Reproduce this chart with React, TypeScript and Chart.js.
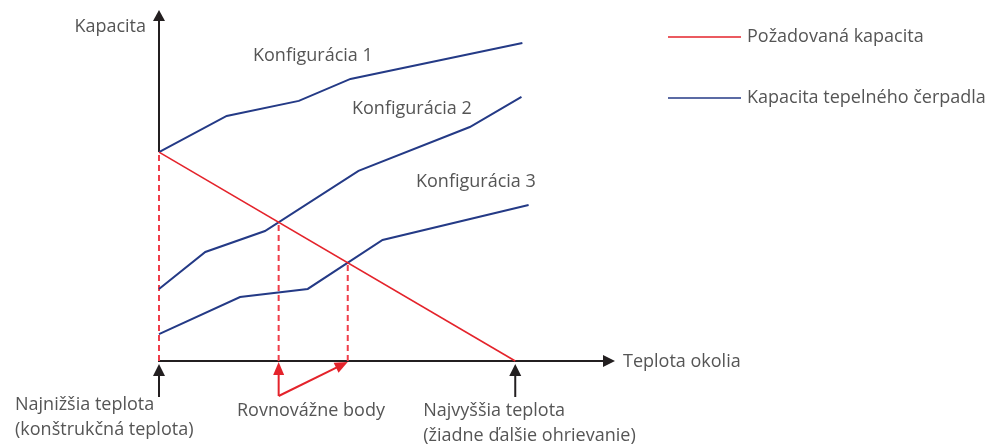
import React, { useEffect, useRef } from "react";
import { Chart, registerables } from "chart.js";

Chart.register(...registerables);

// ---- data (temperature units on x, capacity % on y) ----
const demandTemps = [-20, 20];
const demandValues = [100, 0];
const config1Temps = [-20, -12.4, -4.3, 1.5, 20.8];
const config1Values = [100, 117.3, 124.5, 135, 152.2];
const config2Temps = [-20, -14.8, -8.1, 2.4, 14.9, 20.7];
const config2Values = [34.5, 52.2, 62.2, 91, 112, 126.4];
const config3Temps = [-20, -10.9, -3.3, 5.1, 21.5];
const config3Values = [12.9, 30.6, 34.5, 57.9, 74.7];

const designTemp = -20;
const maxTemp = 20;
const xAxisEnd = 31.2;
const yAxisEnd = 168;

const seriesNames = ["Požadovaná kapacita", "Kapacita tepelného čerpadla"];
const configLabels = ["Konfigurácia 1", "Konfigurácia 2", "Konfigurácia 3"];
const yAxisTitle = "Kapacita";
const xAxisTitle = "Teplota okolia";
const lowLabel = ["Najnižšia teplota", "(konštrukčná teplota)"];
const highLabel = ["Najvyššia teplota", "(žiadne ďalšie ohrievanie)"];
const balanceLabel = "Rovnovážne body";

const RED = "#e4232b";
const RED_DASH = "#ef3e4a";
const BLUE = "#243a86";
const AXIS = "#231f20";
const TEXT = "#555555";
const FONT = '18px "Open Sans", "Noto Sans", sans-serif';

type P = { x: number; y: number };
const toPts = (xs: number[], ys: number[]): P[] => xs.map((x, i) => ({ x, y: ys[i] }));

const demandAt = (t: number) => {
  const [t0, t1] = demandTemps;
  const [v0, v1] = demandValues;
  return v0 + ((t - t0) / (t1 - t0)) * (v1 - v0);
};

// intersection of a capacity curve with the demand line
const balancePoint = (xs: number[], ys: number[]): P | null => {
  for (let i = 0; i < xs.length - 1; i++) {
    const d0 = ys[i] - demandAt(xs[i]);
    const d1 = ys[i + 1] - demandAt(xs[i + 1]);
    if (d0 <= 0 && d1 >= 0) {
      const f = d0 === d1 ? 0 : -d0 / (d1 - d0);
      const t = xs[i] + f * (xs[i + 1] - xs[i]);
      return { x: t, y: demandAt(t) };
    }
  }
  return null;
};

const bal2 = balancePoint(config2Temps, config2Values) as P;
const bal3 = balancePoint(config3Temps, config3Values) as P;

function arrowHead(ctx: CanvasRenderingContext2D, tx: number, ty: number, angle: number, len: number, w: number, color: string) {
  ctx.save();
  ctx.translate(tx, ty);
  ctx.rotate(angle);
  ctx.fillStyle = color;
  ctx.beginPath();
  ctx.moveTo(0, 0);
  ctx.lineTo(-len, -w / 2);
  ctx.lineTo(-len, w / 2);
  ctx.closePath();
  ctx.fill();
  ctx.restore();
}

function line(ctx: CanvasRenderingContext2D, x0: number, y0: number, x1: number, y1: number, color: string, width: number) {
  ctx.save();
  ctx.strokeStyle = color;
  ctx.lineWidth = width;
  ctx.beginPath();
  ctx.moveTo(x0, y0);
  ctx.lineTo(x1, y1);
  ctx.stroke();
  ctx.restore();
}

const diagramPlugin = {
  id: "diagram",
  beforeDatasetsDraw(chart: any) {
    const ctx: CanvasRenderingContext2D = chart.ctx;
    const xs = chart.scales.x;
    const ys = chart.scales.y;
    const X = (v: number) => xs.getPixelForValue(v);
    const Y = (v: number) => ys.getPixelForValue(v);
    const ox = X(designTemp);
    const oy = Y(0);
    // y axis (above the design point), x axis
    line(ctx, ox, Y(demandAt(designTemp)), ox, Y(yAxisEnd) + 10, AXIS, 2);
    arrowHead(ctx, ox, Y(yAxisEnd), -Math.PI / 2, 11, 12, AXIS);
    line(ctx, ox - 1, oy, X(xAxisEnd) - 10, oy, AXIS, 2);
    arrowHead(ctx, X(xAxisEnd), oy, 0, 12, 12, AXIS);
  },
  afterDatasetsDraw(chart: any) {
    const ctx: CanvasRenderingContext2D = chart.ctx;
    const xs = chart.scales.x;
    const ys = chart.scales.y;
    const X = (v: number) => xs.getPixelForValue(v);
    const Y = (v: number) => ys.getPixelForValue(v);
    const ox = X(designTemp);
    const oy = Y(0);

    // black markers below axis
    for (const t of [designTemp, maxTemp]) {
      const px = X(t);
      line(ctx, px, oy + 36, px, oy + 14, AXIS, 2);
      arrowHead(ctx, px, oy + 3, -Math.PI / 2, 12, 12, AXIS);
    }

    // red balance arrows
    const b1 = X(bal2.x);
    const b2 = X(bal3.x);
    const by = oy + 35;
    line(ctx, b1, by, b1, oy + 12, RED, 2);
    arrowHead(ctx, b1, oy + 1, -Math.PI / 2, 13, 11, RED);
    const ang = Math.atan2(oy + 1 - by, b2 - b1);
    const hl = 13;
    line(ctx, b1, by, b2 - Math.cos(ang) * (hl - 2), oy + 1 - Math.sin(ang) * (hl - 2), RED, 2);
    arrowHead(ctx, b2, oy + 1, ang, hl, 11, RED);

    // texts
    ctx.save();
    ctx.font = FONT;
    ctx.fillStyle = TEXT;
    ctx.textBaseline = "middle";
    ctx.textAlign = "right";
    ctx.fillText(yAxisTitle, ox - 13, 27);
    ctx.textAlign = "left";
    ctx.fillText(xAxisTitle, X(xAxisEnd) + 8, oy + 1);
    ctx.fillText(configLabels[0], 253, 56);
    ctx.fillText(configLabels[1], 352, 109);
    ctx.fillText(configLabels[2], 416, 182);
    ctx.fillText(lowLabel[0], 15, oy + 44);
    ctx.fillText(lowLabel[1], 15, oy + 69);
    ctx.fillText(balanceLabel, 237, oy + 50);
    ctx.fillText(highLabel[0], X(maxTemp) - 92, oy + 50);
    ctx.fillText(highLabel[1], X(maxTemp) - 92, oy + 75);

    // legend
    const legend = [
      { color: RED, label: seriesNames[0], y: 37 },
      { color: BLUE, label: seriesNames[1], y: 98 },
    ];
    for (const l of legend) {
      line(ctx, 668, l.y, 741, l.y, l.color, 1.6);
      ctx.fillStyle = TEXT;
      ctx.fillText(l.label, 747, l.y);
    }
    ctx.restore();
  },
};

export default function App() {
  const ref = useRef<HTMLCanvasElement | null>(null);
  useEffect(() => {
    document.body.style.margin = "0";
    const canvas = ref.current!;
    const solid = (data: P[], color: string, width: number, label: string) => ({
      label,
      data,
      borderColor: color,
      backgroundColor: color,
      borderWidth: width,
      pointRadius: 0,
      tension: 0,
      fill: false,
      clip: false as any,
    });
    const dashed = (p: P) => ({
      label: "",
      data: [{ x: p.x, y: 0 }, { x: p.x, y: p.y }],
      borderColor: RED_DASH,
      borderWidth: 2,
      borderDash: [6, 4],
      pointRadius: 0,
      fill: false,
      clip: false as any,
    });
    const chart = new Chart(canvas, {
      type: "line",
      data: {
        datasets: [
          solid(toPts(demandTemps, demandValues), RED, 1.6, seriesNames[0]),
          solid(toPts(config1Temps, config1Values), BLUE, 2, configLabels[0]),
          solid(toPts(config2Temps, config2Values), BLUE, 2, configLabels[1]),
          solid(toPts(config3Temps, config3Values), BLUE, 2, configLabels[2]),
          dashed({ x: designTemp, y: demandAt(designTemp) }),
          dashed(bal2),
          dashed(bal3),
        ] as any,
      },
      options: {
        responsive: false,
        devicePixelRatio: 1,
        animation: false,
        events: [],
        layout: { padding: { left: 159, right: 377, top: 10, bottom: 87 } },
        scales: {
          x: { type: "linear", min: -20, max: xAxisEnd, display: false },
          y: { type: "linear", min: 0, max: yAxisEnd, display: false },
        },
        plugins: { legend: { display: false }, tooltip: { enabled: false } },
      },
      plugins: [diagramPlugin],
    });
    return () => chart.destroy();
  }, []);
  return (
    <div style={{ position: "fixed", left: 0, top: 0, width: 992, height: 448, background: "#fff" }}>
      <canvas ref={ref} width={992} height={448} style={{ width: 992, height: 448, display: "block" }} />
    </div>
  );
}
